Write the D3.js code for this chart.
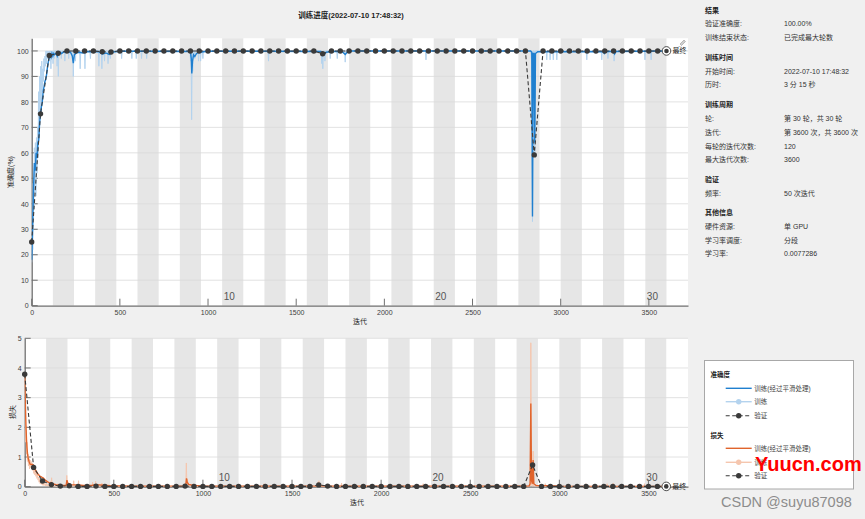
<!DOCTYPE html>
<html><head><meta charset="utf-8">
<script src="https://cdn.jsdelivr.net/npm/d3@7"></script>
<style>
body{margin:0;background:#f0f0f0;}
svg text{font-family:"Liberation Sans","Noto Sans CJK SC",sans-serif;}
</style></head>
<body><svg id="c" width="865" height="519"></svg>
<script>
// ---------------- data ----------------
const epochs = 30, itersPerEpoch = 120, maxIter = 3600;
const xTickValues = [0,500,1000,1500,2000,2500,3000,3500];
const accTicks = [0,10,20,30,40,50,60,70,80,90,100];
const lossTicks = [0,1,2,3,4,5];
const epochLabels = [10,20,30];

const trainAccRaw = [[0,17],[3,30],[6,22],[9,48],[12,38],[15,62],[18,44],[21,64],[24,43],[27,66],[30,52],[33,70],[36,58],[39,84],[42,66],[45,90],[48,74],[51,94],[54,80],[57,96],[60,84],[63,93],[66,88],[69,97],[72,92],[75,98],[78,94],[81,100],[84,95],[87,100],[90,97],[93,100],[96,98],[100,100],[103,96],[106,100],[109,93],[112,100],[115,98],[118,100],[121,95],[124,100],[127,97],[130,100],
[141,100],[144,94],[147,100],[148,100],[151,90],[154,100],[165,100],[168,97],[171,100],[185,100],[188,96],[191,100],[207,100],[210,97],[213,100],
[233,100],[236,90],[239,100],[245,100],[248,96],[251,100],[272,100],[275,93],[278,100],[299,100],[302,93],[305,100],[330,100],[333,97],[336,100],
[378,100],[381,94],[384,100],[395,100],[398,93],[401,100],[410,100],[413,96],[416,100],[430,100],[433,95],[436,100],[443,100],[446,97],[449,100],
[507,100],[510,97],[513,100],[565,100],[568,97],[571,100],[590,100],[593,97],[596,100],[620,100],[623,97],[626,100],[649,100],[652,97],[655,100],
[898,100],[901,96],[904,100],[907,73],[910,100],[913,92],[916,100],[922,100],[925,97],[928,100],[943,100],[946,96],[949,100],[955,100],[958,96],[961,100],[968,100],[971,97],[974,100],
[1340,100],[1343,96],[1346,100],[1642,100],[1645,95],[1648,100],[1651,93],[1654,100],[1660,100],[1663,96],[1666,100],[1690,100],[1693,97],[1696,100],[1730,100],[1733,97],[1736,100],[1775,100],[1778,95.6],[1781,100],
[2233,100],[2236,96.5],[2239,100],[2830,100],[2834,97],[2837,100],[2840,33],[2844,100],[2850,100],[2853,60],[2856,100],
[2918,100],[2921,96.5],[2924,100],[2937,100],[2940,96.5],[2943,100],[2955,100],[2958,96.5],[2961,100],[2975,100],[2978,96.5],[2981,100],
[3145,100],[3148,96.5],[3151,100],[3230,100],[3233,96.5],[3236,100],[3265,100],[3268,97],[3271,100],[3300,100],[3303,96],[3306,100],
[3475,100],[3478,96.5],[3481,100],[3510,100],[3513,96.5],[3516,100],[3600,100]];

const trainAccSmooth = [[0,18],[5,30],[10,45],[15,56],[20,53],[25,60],[30,58],[35,64],[40,65],[45,72],[50,75],[55,78],[60,80],[65,84],[70,86],[75,88],[80,89],[85,91],[90,94],[95,96],[100,98],[105,98.5],[110,97.5],[115,99],[120,98],[125,99],[130,98.5],[140,99.2],[145,98],[150,99],[160,99.5],[170,99],[180,99.6],[200,99.7],[220,99.5],[230,98],[236,95.2],[242,98.5],[255,99.3],[270,99.5],[290,99.2],[310,99.7],[380,99.8],[400,98.8],[420,99.2],[440,98.6],[460,99.6],[500,99.9],[600,99.9],
[900,99.8],[905,97],[908,91.2],[912,96],[918,98.5],[925,97.8],[935,99],[950,99.5],[1000,99.9],[1640,99.8],[1650,98.3],[1660,98.8],[1670,99.5],[1700,99.8],[1760,99.8],[1778,98.6],[1790,99.6],[1800,100],
[2830,100],[2836,99.5],[2840,35],[2844,99],[2849,99],[2853,64],[2857,99],[2870,99.7],[2960,99.7],[3240,99.7],[3248,99],[3256,99.8],[3300,99.8],[3306,98.8],[3314,99.8],[3600,100]];

const trainLossRaw = [[0,3.8],[2,3.1],[4,2.4],[6,1.5],[8,1.9],[10,1.1],[12,1.5],[15,0.85],[18,1.1],[21,0.7],[24,0.95],[27,0.6],[30,0.9],[33,0.65],[36,0.85],[39,0.6],[42,0.8],[45,0.55],[48,0.75],[51,0.45],[54,0.65],[57,0.4],[60,0.55],[63,0.35],[66,0.5],[69,0.28],[72,0.4],[75,0.22],[78,0.32],[81,0.15],[84,0.28],[87,0.1],[90,0.2],[93,0.08],[96,0.15],[100,0.05],[104,0.12],[108,0.04],[112,0.2],[116,0.03],[120,0.1],[125,0.02],[130,0.08],[135,0.02],
[141,0.02],[144,0.18],[147,0.02],[148,0.02],[151,0.3],[154,0.02],[165,0.01],[168,0.09],[171,0.01],[185,0.01],[188,0.1],[191,0.01],
[233,0.01],[236,0.38],[239,0.02],[245,0.02],[248,0.1],[251,0.01],[272,0.01],[275,0.2],[278,0.01],[299,0.01],[302,0.2],[305,0.01],
[378,0.01],[381,0.15],[384,0.01],[395,0.01],[398,0.18],[401,0.01],[430,0.01],[433,0.12],[436,0.01],
[898,0.01],[901,0.1],[904,0.02],[907,0.8],[910,0.05],[913,0.25],[916,0.02],[943,0.01],[946,0.1],[949,0.01],
[1340,0.01],[1343,0.1],[1346,0.01],[1642,0.01],[1645,0.15],[1648,0.01],[1651,0.2],[1654,0.01],[1775,0.01],[1778,0.12],[1781,0.01],
[2233,0.01],[2236,0.1],[2239,0.01],[2830,0.01],[2834,0.1],[2837,0.02],[2840,4.85],[2844,0.05],[2850,0.02],[2853,1.2],[2856,0.02],
[2918,0.01],[2921,0.1],[2924,0.01],[3145,0.01],[3148,0.1],[3151,0.01],[3265,0.01],[3268,0.1],[3271,0.01],[3300,0.01],[3303,0.12],[3306,0.01],
[3475,0.01],[3478,0.1],[3481,0.01],[3600,0.01]];

const trainLossSmooth = [[0,3.76],[3,3.0],[5,2.5],[7,2.08],[10,1.6],[13,1.3],[16,1.1],[20,0.95],[25,0.84],[30,0.76],[40,0.75],[50,0.72],[55,0.63],[60,0.57],[67,0.5],[75,0.42],[85,0.36],[95,0.32],[105,0.29],[115,0.22],[125,0.18],[135,0.14],[142,0.12],[150,0.13],[160,0.09],[175,0.07],[200,0.05],[225,0.04],[233,0.05],[237,0.22],[242,0.12],[255,0.07],[275,0.06],[300,0.06],[330,0.04],[380,0.05],[400,0.07],[440,0.05],[480,0.03],[600,0.02],
[900,0.02],[905,0.1],[908,0.28],[912,0.15],[920,0.08],[940,0.05],[1000,0.02],[1640,0.02],[1650,0.06],[1665,0.03],[1700,0.02],
[2830,0.02],[2836,0.1],[2840,2.8],[2844,0.2],[2849,0.1],[2853,0.9],[2857,0.1],[2870,0.04],[2950,0.03],[3000,0.02],[3600,0.01]];

const valIters = d3.range(0, 3601, 50);
const valAcc = [25,75.3,98.2,99.1,100,100,100,100,99.7,99.6,
 100,100,100,100,100,100,100,100,100,100,
 100,100,100,100,100,100,100,100,100,100,
 100,100,100,98.9,100,100,100,100,100,100,
 100,100,100,100,100,100,100,100,100,100,
 100,100,100,100,100,100,100,59.2,100,100,
 100,100,100,100,100,100,100,100,100,100,
 100,100,100];
const valLoss = [3.79,0.65,0.19,0.07,0.02,0.03,0.01,0.01,0.02,0.01,
 0.01,0.01,0.01,0.01,0.01,0.01,0.01,0.01,0.02,0.01,
 0.01,0.01,0.01,0.01,0.01,0.01,0.01,0.01,0.01,0.01,
 0.01,0.01,0.01,0.06,0.02,0.01,0.01,0.01,0.01,0.01,
 0.01,0.01,0.01,0.01,0.01,0.01,0.01,0.01,0.01,0.01,
 0.01,0.01,0.01,0.01,0.01,0.01,0.01,0.73,0.01,0.01,
 0.01,0.01,0.01,0.01,0.01,0.01,0.01,0.01,0.01,0.01,
 0.01,0.01,0.01];

const infoRows = [
 ["h","结果"],["r","验证准确度:","100.00%"],["r","训练结束状态:","已完成最大轮数"],
 ["h","训练时间"],["r","开始时间:","2022-07-10 17:48:32"],["r","历时:","3 分 15 秒"],
 ["h","训练周期"],["r","轮:","第 30 轮，共 30 轮"],["r","迭代:","第 3600 次，共 3600 次"],["r","每轮的迭代次数:","120"],["r","最大迭代次数:","3600"],
 ["h","验证"],["r","频率:","50 次迭代"],
 ["h","其他信息"],["r","硬件资源:","单 GPU"],["r","学习率调度:","分段"],["r","学习率:","0.0077286"]
];
const infoY = [10,23.5,37.5,57,71,84.5,104,118.5,132,146,159.5,179,193,212,226.5,240,253.5];

// ---------------- styles ----------------
const C = {
  band:"#e6e6e6", grid:"#dadada", axis:"#707070", tick:"#404040",
  accS:"#1f7fcf", accR:"#b4d3ee", lossS:"#e0642c", lossR:"#f5c6ae", val:"#3a3a3a"
};

const svg = d3.select("#c");

svg.append("text").attr("x",351).attr("y",17.5).attr("text-anchor","middle")
  .attr("font-size",7.5).attr("font-weight","bold").attr("fill","#222")
  .text("训练进度(2022-07-10 17:48:32)");

function panel(o){
  const x = d3.scaleLinear().domain([0,3722]).range([o.left,688]);
  const y = d3.scaleLinear().domain(o.yDomain).range([o.bottom,o.top]);
  const g = svg.append("g");
  g.append("rect").attr("x",o.left).attr("y",o.top).attr("width",688-o.left).attr("height",o.bottom-o.top).attr("fill","#fff");
  const eps = d3.range(1,epochs+1).filter(e=>e%2===0);
  g.selectAll(".band").data(eps).join("rect")
    .attr("x",e=>x((e-1)*itersPerEpoch)).attr("width",e=>x(e*itersPerEpoch)-x((e-1)*itersPerEpoch))
    .attr("y",o.top).attr("height",o.bottom-o.top).attr("fill",C.band);
  g.selectAll(".grid").data(o.yTicks.filter(t=>t>0)).join("line")
    .attr("x1",o.left).attr("x2",688).attr("y1",d=>y(d)).attr("y2",d=>y(d))
    .attr("stroke",C.grid).attr("stroke-width",0.8);
  g.selectAll(".ep").data(epochLabels).join("text")
    .attr("x",e=>x((e-1)*itersPerEpoch)+1.5).attr("y",o.bottom-6)
    .attr("font-size",10).attr("fill","#555").text(e=>e);
  const xa = d3.axisBottom(x).tickValues(xTickValues).tickFormat(d3.format("d")).tickSize(0).tickPadding(4);
  const xg = g.append("g").attr("transform",`translate(0,${o.bottom})`).call(xa);
  xg.select(".domain").attr("stroke",C.axis).attr("stroke-width",1.3);
  xg.selectAll("text").attr("font-size",7).attr("fill",C.tick);
  g.selectAll(".xt").data(xTickValues).join("line")
    .attr("x1",d=>x(d)).attr("x2",d=>x(d)).attr("y1",o.bottom).attr("y2",o.bottom-7)
    .attr("stroke",C.axis).attr("stroke-width",1);
  const ya = d3.axisLeft(y).tickValues(o.yTicks).tickFormat(d3.format("d")).tickSize(0).tickPadding(3);
  const yg = g.append("g").attr("transform",`translate(${o.left},0)`).call(ya);
  yg.select(".domain").attr("stroke",C.axis).attr("stroke-width",1.3);
  yg.selectAll("text").attr("font-size",7).attr("fill",C.tick);
  g.selectAll(".yt").data(o.yTicks).join("line")
    .attr("x1",o.left).attr("x2",o.left+6).attr("y1",d=>y(d)).attr("y2",d=>y(d))
    .attr("stroke",C.axis).attr("stroke-width",1);
  g.append("text").attr("x",o.xlabelX).attr("y",o.xlabelY).attr("text-anchor","middle")
    .attr("font-size",7).attr("fill","#222").text("迭代");
  g.append("text").attr("transform",`translate(${o.ylabelX},${o.ylabelY}) rotate(-90)`)
    .attr("text-anchor","middle").attr("font-size",7).attr("fill","#222").text(o.ylabel);
  const cid = "clip"+o.id;
  svg.append("clipPath").attr("id",cid).append("rect")
    .attr("x",o.left).attr("y",o.top-1).attr("width",688-o.left).attr("height",o.bottom-o.top+1);
  const dg = svg.append("g").attr("clip-path",`url(#${cid})`);
  const line = d3.line().x(d=>x(d[0])).y(d=>y(d[1]));
  dg.append("path").attr("d",line(o.raw)).attr("fill","none").attr("stroke",o.rawColor).attr("stroke-width",1);
  dg.append("path").attr("d",line(o.smooth)).attr("fill","none").attr("stroke",o.smoothColor).attr("stroke-width",1.4);
  const vdata = valIters.map((it,i)=>[it,o.val[i]]);
  const vg = svg.append("g");
  vg.append("path").attr("d",line(vdata)).attr("fill","none").attr("stroke",C.val)
    .attr("stroke-width",1.1).attr("stroke-dasharray","4,2.5");
  vg.selectAll("circle").data(vdata).join("circle")
    .attr("cx",d=>x(d[0])).attr("cy",d=>y(d[1])).attr("r",2.7).attr("fill",C.val);
  const fv = o.val[o.val.length-1];
  vg.append("circle").attr("cx",x(maxIter)).attr("cy",y(fv)).attr("r",4.3)
    .attr("fill","#fff").attr("stroke",C.val).attr("stroke-width",0.9);
  vg.append("circle").attr("cx",x(maxIter)).attr("cy",y(fv)).attr("r",2.3).attr("fill",C.val);
  vg.append("text").attr("x",x(maxIter)+6).attr("y",y(fv)+2.5).attr("font-size",7).attr("fill","#222").text("最终");
}

panel({id:"acc",left:31.7,top:38.2,bottom:305.7,yDomain:[0,105],yTicks:accTicks,
  raw:trainAccRaw,smooth:trainAccSmooth,val:valAcc,rawColor:C.accR,smoothColor:C.accS,
  ylabel:"准确度(%)",ylabelX:13,ylabelY:172,xlabelX:360,xlabelY:324});
panel({id:"loss",left:24.7,top:338.3,bottom:486.7,yDomain:[0,5],yTicks:lossTicks,
  raw:trainLossRaw,smooth:trainLossSmooth,val:valLoss,rawColor:C.lossR,smoothColor:C.lossS,
  ylabel:"损失",ylabelX:15,ylabelY:412,xlabelX:357,xlabelY:505});

// small brush icon
svg.append("path").attr("d","M680,44 L684,40 L685.5,41.5 L681.5,45.5 Z M678.5,46.5 L680.5,46.5").attr("fill","#cfcfcf").attr("stroke","#9a9a9a").attr("stroke-width",0.6);

// info panel
infoRows.forEach((r,i)=>{
  const yy = infoY[i]+2.5;
  if(r[0]==="h"){
    svg.append("text").attr("x",705).attr("y",yy).attr("font-size",7).attr("font-weight","bold").attr("fill","#222").text(r[1]);
  } else {
    svg.append("text").attr("x",705).attr("y",yy).attr("font-size",7).attr("fill","#333").text(r[1]);
    svg.append("text").attr("x",784).attr("y",yy).attr("font-size",7).attr("fill","#333").text(r[2]);
  }
});

// legend
const lg = svg.append("g");
lg.append("rect").attr("x",704.5).attr("y",360.5).attr("width",149).attr("height",128.5)
  .attr("fill","#fff").attr("stroke","#a8a8a8").attr("stroke-width",1);
const legendItems = [
  {t:"h",label:"准确度",y:374.3},
  {t:"s",label:"训练(经过平滑处理)",y:388.3,color:C.accS},
  {t:"r",label:"训练",y:401.7,color:C.accR},
  {t:"v",label:"验证",y:415.7},
  {t:"h",label:"损失",y:436},
  {t:"s",label:"训练(经过平滑处理)",y:448.3,color:C.lossS},
  {t:"r",label:"训练",y:462.3,color:C.lossR},
  {t:"v",label:"验证",y:475.7}
];
legendItems.forEach(it=>{
  if(it.t==="h"){
    lg.append("text").attr("x",710.5).attr("y",it.y+2.3).attr("font-size",6.5).attr("font-weight","bold").attr("fill","#222").text(it.label);
    return;
  }
  if(it.t==="s"){
    lg.append("line").attr("x1",725.7).attr("x2",751.7).attr("y1",it.y).attr("y2",it.y).attr("stroke",it.color).attr("stroke-width",1.4);
  } else if(it.t==="r"){
    lg.append("line").attr("x1",725.7).attr("x2",751.7).attr("y1",it.y).attr("y2",it.y).attr("stroke",it.color).attr("stroke-width",1.4);
    lg.append("circle").attr("cx",738.7).attr("cy",it.y).attr("r",2.7).attr("fill",it.color);
  } else {
    lg.append("line").attr("x1",725.7).attr("x2",751.7).attr("y1",it.y).attr("y2",it.y).attr("stroke",C.val).attr("stroke-width",1.1).attr("stroke-dasharray","4,2.5");
    lg.append("circle").attr("cx",738.7).attr("cy",it.y).attr("r",2.7).attr("fill",C.val);
  }
  lg.append("text").attr("x",754.3).attr("y",it.y+2.3).attr("font-size",6.5).attr("fill","#444").text(it.label);
});

// watermarks (overlap the legend, as in the reference)
svg.append("text").attr("x",755).attr("y",470.5).attr("font-family","'Liberation Serif',serif")
  .attr("font-size",20).attr("font-weight","bold").attr("fill","#ff0000").text("Yuucn.com");
svg.append("text").attr("x",721).attr("y",507).attr("font-size",14.5).attr("fill","#8c8c8c").text("CSDN @suyu87098");
</script></body></html>
